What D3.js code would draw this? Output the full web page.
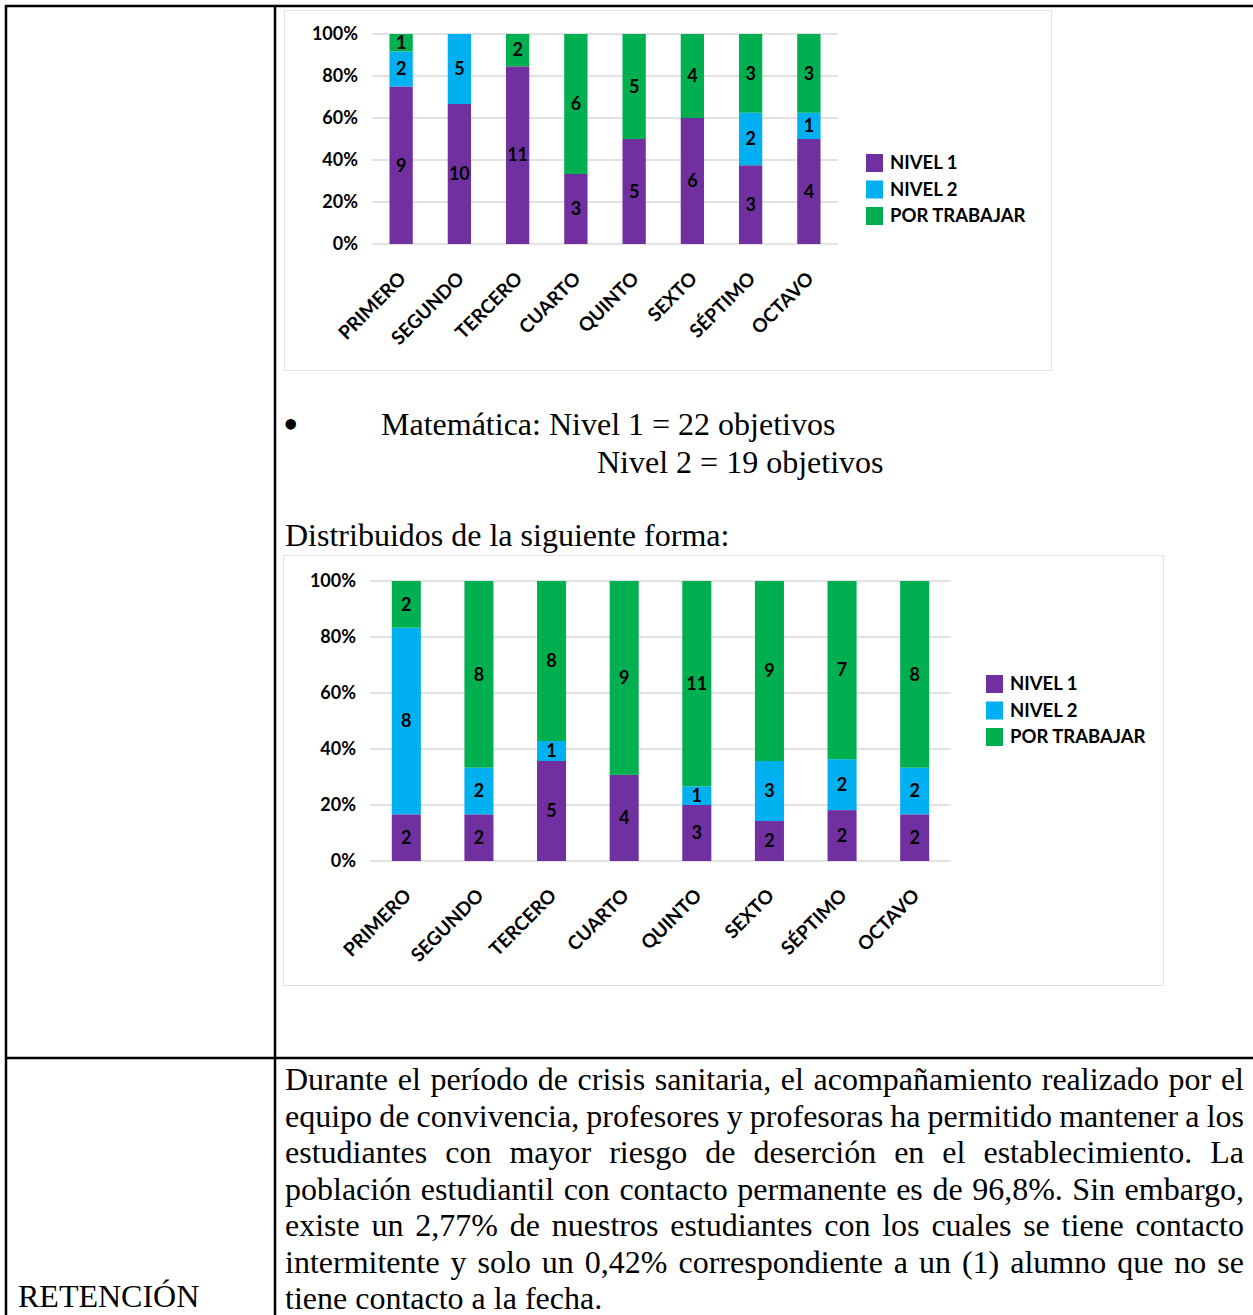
<!DOCTYPE html>
<html>
<head>
<meta charset="utf-8">
<script src="https://cdn.jsdelivr.net/npm/d3@7"></script>
<style>
  body { margin: 0; background: #fff; }
  svg { display: block; }
  .chart text { font-family: Lato, "Open Sans", sans-serif; font-weight: 700; fill: #000; }
  .doc { font-family: "Liberation Serif", "Times New Roman", serif; font-size: 32px; fill: #000; }
</style>
</head>
<body>
<script>
const width = 1253;
const height = 1315;

const categories = ["PRIMERO", "SEGUNDO", "TERCERO", "CUARTO", "QUINTO", "SEXTO", "SÉPTIMO", "OCTAVO"];
const seriesNames = ["NIVEL 1", "NIVEL 2", "POR TRABAJAR"];
const seriesColors = ["#7030A0", "#00B0F0", "#00B050"];
const yTicks = [0, 0.2, 0.4, 0.6, 0.8, 1];

// first chart (objetivos por curso)
const chart1Nivel1 = [9, 10, 11, 3, 5, 6, 3, 4];
const chart1Nivel2 = [2, 5, 0, 0, 0, 0, 2, 1];
const chart1PorTrabajar = [1, 0, 2, 6, 5, 4, 3, 3];

// second chart (matemática)
const chart2Nivel1 = [2, 2, 5, 4, 3, 2, 2, 2];
const chart2Nivel2 = [8, 2, 1, 0, 1, 3, 2, 2];
const chart2PorTrabajar = [2, 8, 8, 9, 11, 9, 7, 8];

const paragraph = [
  "Durante el período de crisis sanitaria, el acompañamiento realizado por el",
  "equipo de convivencia, profesores y profesoras ha permitido mantener a los",
  "estudiantes con mayor riesgo de deserción en el establecimiento. La",
  "población estudiantil con contacto permanente es de 96,8%. Sin embargo,",
  "existe un 2,77% de nuestros estudiantes con los cuales se tiene contacto",
  "intermitente y solo un 0,42% correspondiente a un (1) alumno que no se",
  "tiene contacto a la fecha."
];

let svg = d3
  .select("body")
  .append("svg")
  .attr("width", width)
  .attr("height", height);

// table borders
let borders = svg.append("g").attr("stroke", "#000").attr("stroke-width", 2.5);
borders.append("line").attr("x1", 5).attr("x2", width).attr("y1", 6).attr("y2", 6);
borders.append("line").attr("x1", 6).attr("x2", 6).attr("y1", 5).attr("y2", height);
borders.append("line").attr("x1", 275).attr("x2", 275).attr("y1", 5).attr("y2", height);
borders.append("line").attr("x1", 5).attr("x2", width).attr("y1", 1058).attr("y2", 1058);

function drawChart(layout, n1, n2, pt) {
  let data = categories.map((c, i) => {
    let total = n1[i] + n2[i] + pt[i];
    return { cat: c, values: [n1[i], n2[i], pt[i]], total: total };
  });

  let g = svg.append("g").attr("class", "chart");

  g.append("rect")
    .attr("x", layout.frame[0] + 0.5)
    .attr("y", layout.frame[1] + 0.5)
    .attr("width", layout.frame[2])
    .attr("height", layout.frame[3])
    .attr("fill", "#fff")
    .attr("stroke", "#e3e3e3");

  let x = d3.scaleBand().domain(categories).range(layout.x).paddingInner(0.6).paddingOuter(0.3);
  let y = d3.scaleLinear().domain([0, 1]).range(layout.y);

  g.append("g")
    .selectAll("line")
    .data(yTicks)
    .join("line")
    .attr("x1", layout.x[0])
    .attr("x2", layout.x[1])
    .attr("y1", (d) => y(d))
    .attr("y2", (d) => y(d))
    .attr("stroke", "#d9d9d9")
    .attr("stroke-width", 1.5);

  g.append("g")
    .selectAll("text")
    .data(yTicks)
    .join("text")
    .attr("x", layout.x[0] - 14)
    .attr("y", (d) => y(d))
    .attr("dy", "0.35em")
    .attr("text-anchor", "end")
    .attr("font-size", 18)
    .text((d) => d3.format(".0%")(d));

  let stack = d3.stack().keys([0, 1, 2]).value((d, k) => d.values[k] / d.total);
  let layers = stack(data);

  let groups = g.append("g")
    .selectAll("g")
    .data(layers)
    .join("g")
    .attr("fill", (d) => seriesColors[d.key]);

  groups.selectAll("rect")
    .data((d) => d)
    .join("rect")
    .attr("x", (d) => x(d.data.cat))
    .attr("width", x.bandwidth())
    .attr("y", (d) => y(d[1]))
    .attr("height", (d) => y(d[0]) - y(d[1]));

  groups.selectAll("text")
    .data((d) => d.map((s) => ({ s: s, key: d.key })))
    .join("text")
    .filter((d) => d.s.data.values[d.key] > 0)
    .attr("x", (d) => x(d.s.data.cat) + x.bandwidth() / 2)
    .attr("y", (d) => (y(d.s[0]) + y(d.s[1])) / 2)
    .attr("dy", "0.35em")
    .attr("text-anchor", "middle")
    .attr("font-size", 18)
    .text((d) => d.s.data.values[d.key]);

  g.append("g")
    .selectAll("text")
    .data(categories)
    .join("text")
    .attr("text-anchor", "end")
    .attr("font-size", 19)
    .attr("transform", (d) => `translate(${x(d) + x.bandwidth() / 2 + 6}, ${layout.y[0] + 36}) rotate(-45)`)
    .text((d) => d);

  let legend = g.append("g")
    .selectAll("g")
    .data(seriesNames)
    .join("g")
    .attr("transform", (d, i) => `translate(${layout.legend[0]}, ${layout.legend[1] + i * 26.5})`);

  legend.append("rect")
    .attr("width", 17)
    .attr("height", 18)
    .attr("fill", (d, i) => seriesColors[i]);

  legend.append("text")
    .attr("x", 24)
    .attr("y", 9)
    .attr("dy", "0.35em")
    .attr("font-size", 18.5)
    .text((d) => d);
}

drawChart(
  { frame: [284, 10, 767, 360], x: [372, 838], y: [244, 34], legend: [866, 154] },
  chart1Nivel1, chart1Nivel2, chart1PorTrabajar
);

drawChart(
  { frame: [283, 555, 880, 430], x: [370, 951], y: [861, 581], legend: [986, 675] },
  chart2Nivel1, chart2Nivel2, chart2PorTrabajar
);

// document text
let doc = svg.append("g").attr("class", "doc");

doc.append("text").attr("x", 283).attr("y", 439).attr("font-size", 44).text("•");
doc.append("text").attr("x", 381).attr("y", 435).text("Matemática: Nivel 1 = 22 objetivos");
doc.append("text").attr("x", 597).attr("y", 473).text("Nivel 2 = 19 objetivos");
doc.append("text").attr("x", 285).attr("y", 546).text("Distribuidos de la siguiente forma:");
doc.append("text").attr("x", 18).attr("y", 1307).text("RETENCIÓN");

let lineWidth = 959;
doc.selectAll(".para")
  .data(paragraph)
  .join("text")
  .attr("class", "para")
  .attr("x", 285)
  .attr("y", (d, i) => 1090 + i * 36.5)
  .text((d) => d)
  .each(function (d, i) {
    if (i === paragraph.length - 1) return;
    let w = this.getComputedTextLength();
    let spaces = d.split(" ").length - 1;
    d3.select(this).attr("word-spacing", (lineWidth - w) / spaces);
  });
</script>
</body>
</html>
